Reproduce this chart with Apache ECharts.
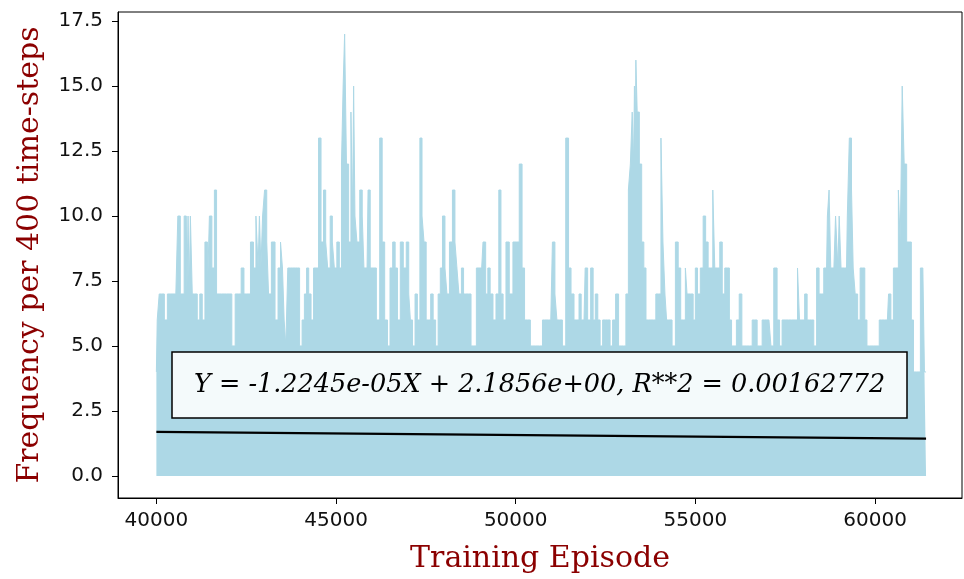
<!DOCTYPE html>
<html>
<head>
<meta charset="utf-8">
<script src="https://cdn.jsdelivr.net/npm/echarts@6/dist/echarts.min.js"></script>
<style>
html,body{margin:0;padding:0;background:#fff;}
#chart{width:964px;height:579px;}
</style>
</head>
<body>
<div id="chart"></div>
<script>
// Envelope of the frequency trace (episode, peak frequency)
const episodes = [
40000,40047,40111,40176,40269,40343,40417,40509,40574,40620,40713,40833,40865,40898,40930,40962,41036,41101,41175,41240,41314,41388,41453,41499,41591,41638,41712,41776,41850,41915,41989,42054,42146,42239,42313,42405,42470,42563,42674,42729,42812,42850,42886,42933,42979,43044,43099,43145,43256,43349,43423,
43486,43532,43579,43625,43690,43764,43828,43902,43949,44023,44087,44152,44208,44272,44337,44411,44476,44550,44615,44689,44735,44800,44874,44920,44985,45059,45123,45179,45216,45262,45318,45382,45447,45475,45503,45549,45614,45706,45752,45799,45863,45919,45984,46076,46169,46261,46307,46400,46465,46539,46613,46677,46742,46835,46908,
47000,47046,47092,47166,47231,47296,47370,47416,47481,47536,47601,47666,47740,47804,47878,47925,47999,48063,48110,48202,48276,48341,48387,48452,48526,48572,48646,48711,48803,48868,48942,49016,49053,49127,49201,49247,49331,49405,49497,49562,49617,49682,49775,49867,49978,50052,50145,50209,50283,50376,50441,50514,
50606,50717,50772,50837,50976,51068,51114,51179,51253,51346,51438,51503,51577,51669,51734,51790,51854,51901,51965,52039,52132,52178,52252,52317,52382,52455,52530,52594,52659,52733,52826,52900,52964,53029,53103,53168,53214,53270,53293,53316,53335,53353,53408,53473,53538,53593,53658,53732,53797,53862,53936,54010,54074,54121,54185,
54213,54305,54398,54490,54555,54629,54694,54749,54786,54860,54906,54971,55027,55091,55184,55249,55323,55387,55461,55508,55572,55646,55711,55785,55850,55924,55970,56044,56109,56174,56266,56322,56386,56479,56544,56618,56682,56756,56821,56895,56960,57015,57080,57126,57237,57311,57376,57450,57543,57635,57728,
57819,57865,57930,58004,58078,58142,58207,58263,58327,58420,58466,58540,58605,58651,58697,58744,58790,58855,58947,58984,59021,59086,59206,59252,59317,59373,59410,59484,59548,59622,59687,59743,59807,59900,59992,60057,60177,60270,60344,60409,60474,60548,60612,60686,60710,60733,60779,60843,60917,60982,61038,61102,61194,61330,61420
];
const freq = [
4,6,7,7,6,7,7,7,7,10,7,10,7,10,7,10,7,7,6,7,6,9,7,10,8,11,7,7,7,7,7,7,5,7,7,8,7,7,9,8,10,8,10,8,10,11,9,7,9,6,8,
9,8,6,5,8,8,8,8,8,5,6,7,8,7,6,8,8,13,9,11,9,8,10,9,8,9,8,12,15,17,12,9,14,10,15,10,9,11,10,8,8,11,8,8,6,13,9,6,5,8,9,8,6,9,8,
9,7,6,5,7,6,13,10,9,6,6,7,6,5,7,8,10,8,7,9,11,9,8,7,8,7,7,7,5,5,8,8,8,9,7,8,7,6,7,11,7,6,9,7,9,9,12,8,6,6,5,5,
5,5,6,6,6,9,7,6,6,5,13,8,7,6,6,7,6,6,8,6,8,6,7,6,5,6,6,6,5,6,7,5,5,5,7,11,12,14,12,15,12,16,14,12,9,8,6,6,6,6,7,7,13,9,7,
6,6,5,9,8,6,6,8,7,7,7,6,8,7,8,10,9,8,8,11,8,8,9,7,8,8,6,5,5,6,7,5,5,5,5,6,6,5,5,6,6,6,6,5,8,6,5,6,6,6,6,
6,8,6,6,7,6,6,6,5,8,7,7,8,8,10,11,8,8,10,8,10,8,8,10,13,11,8,7,6,8,8,6,5,5,5,5,6,6,6,7,6,8,8,11,9,11,15,12,9,9,6,4,4,8,4
];
// Linear fit end points (from Y = -1.2245e-05X + 2.1856e+00)
const fitEpisodes = [40000, 61420];
const fitValues = [1.6958, 1.4335];
const xTicks = [40000, 45000, 50000, 55000, 60000];
const yTicks = [0, 2.5, 5, 7.5, 10, 12.5, 15, 17.5];
const fitLabel = 'Y = -1.2245e-05X + 2.1856e+00, R**2 = 0.00162772';

const traceData = episodes.map((e, i) => [e, freq[i]]);
const fitData = fitEpisodes.map((e, i) => [e, fitValues[i]]);

const chart = echarts.init(document.getElementById('chart'), null, {renderer: 'canvas'});
chart.setOption({
  animation: false,
  backgroundColor: '#ffffff',
  title: {
    text: fitLabel,
    left: 172,
    top: 352,
    padding: [18, 22, 18, 22],
    backgroundColor: '#f4fafb',
    borderColor: '#000000',
    borderWidth: 1.5,
    textStyle: {
      fontFamily: 'DejaVu Serif',
      fontStyle: 'italic',
      fontWeight: 'normal',
      fontSize: 25.5,
      color: '#000000',
      lineHeight: 30
    },
    z: 10
  },
  grid: {left: 118, top: 12, width: 844, height: 486, show: true, borderColor: '#000', borderWidth: 1, backgroundColor: 'transparent', containLabel: false, outerBoundsMode: 'none'},
  xAxis: {
    type: 'value',
    min: 38932,
    max: 62420,
    name: 'Training Episode',
    nameLocation: 'middle',
    nameGap: 46,
    nameTextStyle: {fontFamily: 'DejaVu Serif', fontSize: 30, color: '#8b0000'},
    axisLine: {show: true, onZero: false, lineStyle: {color: '#000', width: 1}},
    axisTick: {show: true, length: 6, lineStyle: {color: '#000'}, customValues: xTicks},
    axisLabel: {customValues: xTicks, margin: 13, fontFamily: 'DejaVu Sans', fontSize: 20, color: '#111', formatter: v => String(v)},
    splitLine: {show: false}
  },
  yAxis: {
    type: 'value',
    min: -0.85,
    max: 17.85,
    name: 'Frequency per 400 time-steps',
    nameLocation: 'middle',
    nameGap: 73,
    nameTextStyle: {fontFamily: 'DejaVu Serif', fontSize: 30, color: '#8b0000'},
    axisLine: {show: true, onZero: false, lineStyle: {color: '#000', width: 1}},
    axisTick: {show: true, length: 6, lineStyle: {color: '#000'}, customValues: yTicks},
    axisLabel: {customValues: yTicks, margin: 15, fontFamily: 'DejaVu Sans', fontSize: 20, color: '#111', formatter: v => v.toFixed(1)},
    splitLine: {show: false}
  },
  series: [
    {
      name: 'frequency',
      type: 'line',
      step: 'middle',
      data: traceData,
      showSymbol: false,
      lineStyle: {color: '#add8e6', width: 1},
      areaStyle: {color: '#add8e6', opacity: 1, origin: 0},
      z: 2
    },
    {
      name: 'fit',
      type: 'line',
      data: fitData,
      showSymbol: false,
      lineStyle: {color: '#000000', width: 2.2},
      z: 3
    }
  ]
});
</script>
</body>
</html>
